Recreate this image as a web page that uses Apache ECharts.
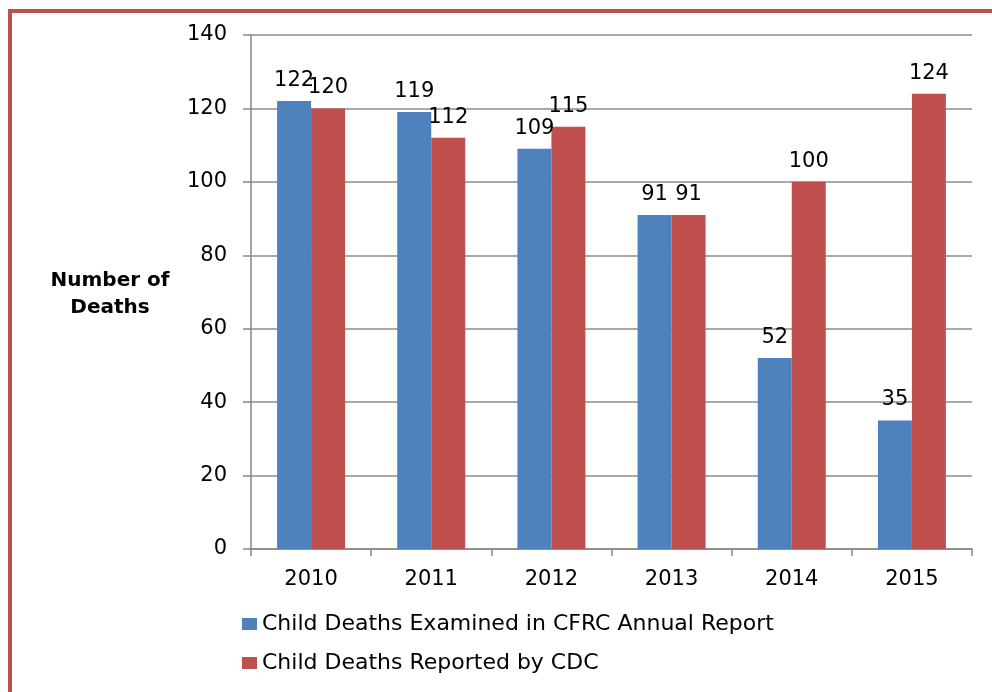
<!DOCTYPE html>
<html><head><meta charset="utf-8">
<script src="https://cdn.jsdelivr.net/npm/echarts@6/dist/echarts.min.js"></script>
<style>html,body{margin:0;padding:0;background:#fff}#c{width:992px;height:692px}</style>
</head><body><div id="c"></div>
<script>
const categories = ['2010','2011','2012','2013','2014','2015'];
const examined = [122,119,109,91,52,35];
const reported = [120,112,115,91,100,124];
const seriesNames = ['Child Deaths Examined in CFRC Annual Report','Child Deaths Reported by CDC'];
const yTicks = {min:0,max:140,interval:20};

const font = 'DejaVu Sans';
const chart = echarts.init(document.getElementById('c'), null, {renderer:'canvas'});
chart.setOption({
  animation:false,
  backgroundColor:'#fff',
  textStyle:{fontFamily:font},
  graphic:[{type:'rect',shape:{x:10,y:11,width:1000,height:700},style:{fill:'none',stroke:'#C0504D',lineWidth:4},silent:true,z:100},
    {type:'text',x:110,y:267,style:{text:'Number of\nDeaths',font:'bold 20px "DejaVu Sans"',fill:'#000',lineHeight:27,align:'center'}}],
  grid:{left:251,right:20,top:35,bottom:143,containLabel:false},
  legend:{orient:'vertical',left:237,top:608,itemWidth:15,itemHeight:12,itemGap:17,icon:'rect',
    textStyle:{fontFamily:font,fontSize:22,color:'#000'},data:seriesNames},
  xAxis:{type:'category',data:categories,
    axisLine:{lineStyle:{color:'#888',width:1.5}},
    axisTick:{show:true,length:7,lineStyle:{color:'#888',width:1.5}},
    axisLabel:{fontFamily:font,fontSize:21,color:'#000',margin:20}},
  yAxis:{type:'value',min:yTicks.min,max:yTicks.max,interval:yTicks.interval,
    axisLine:{show:true,lineStyle:{color:'#888',width:1.5}},
    axisTick:{show:true,length:8,lineStyle:{color:'#888',width:1.5}},
    splitLine:{lineStyle:{color:'#8c8c8c',width:1.5}},
    axisLabel:{fontFamily:font,fontSize:21,color:'#000',margin:24}},
  series:[
    {name:seriesNames[0],type:'bar',data:examined,barWidth:34,barGap:'0%',itemStyle:{color:'#4F81BD'},
      label:{show:true,position:'top',fontFamily:font,fontSize:21,color:'#000',distance:10}},
    {name:seriesNames[1],type:'bar',data:reported,barWidth:34,barGap:'0%',itemStyle:{color:'#C0504D'},
      label:{show:true,position:'top',fontFamily:font,fontSize:21,color:'#000',distance:10}}
  ]
});
</script></body></html>
